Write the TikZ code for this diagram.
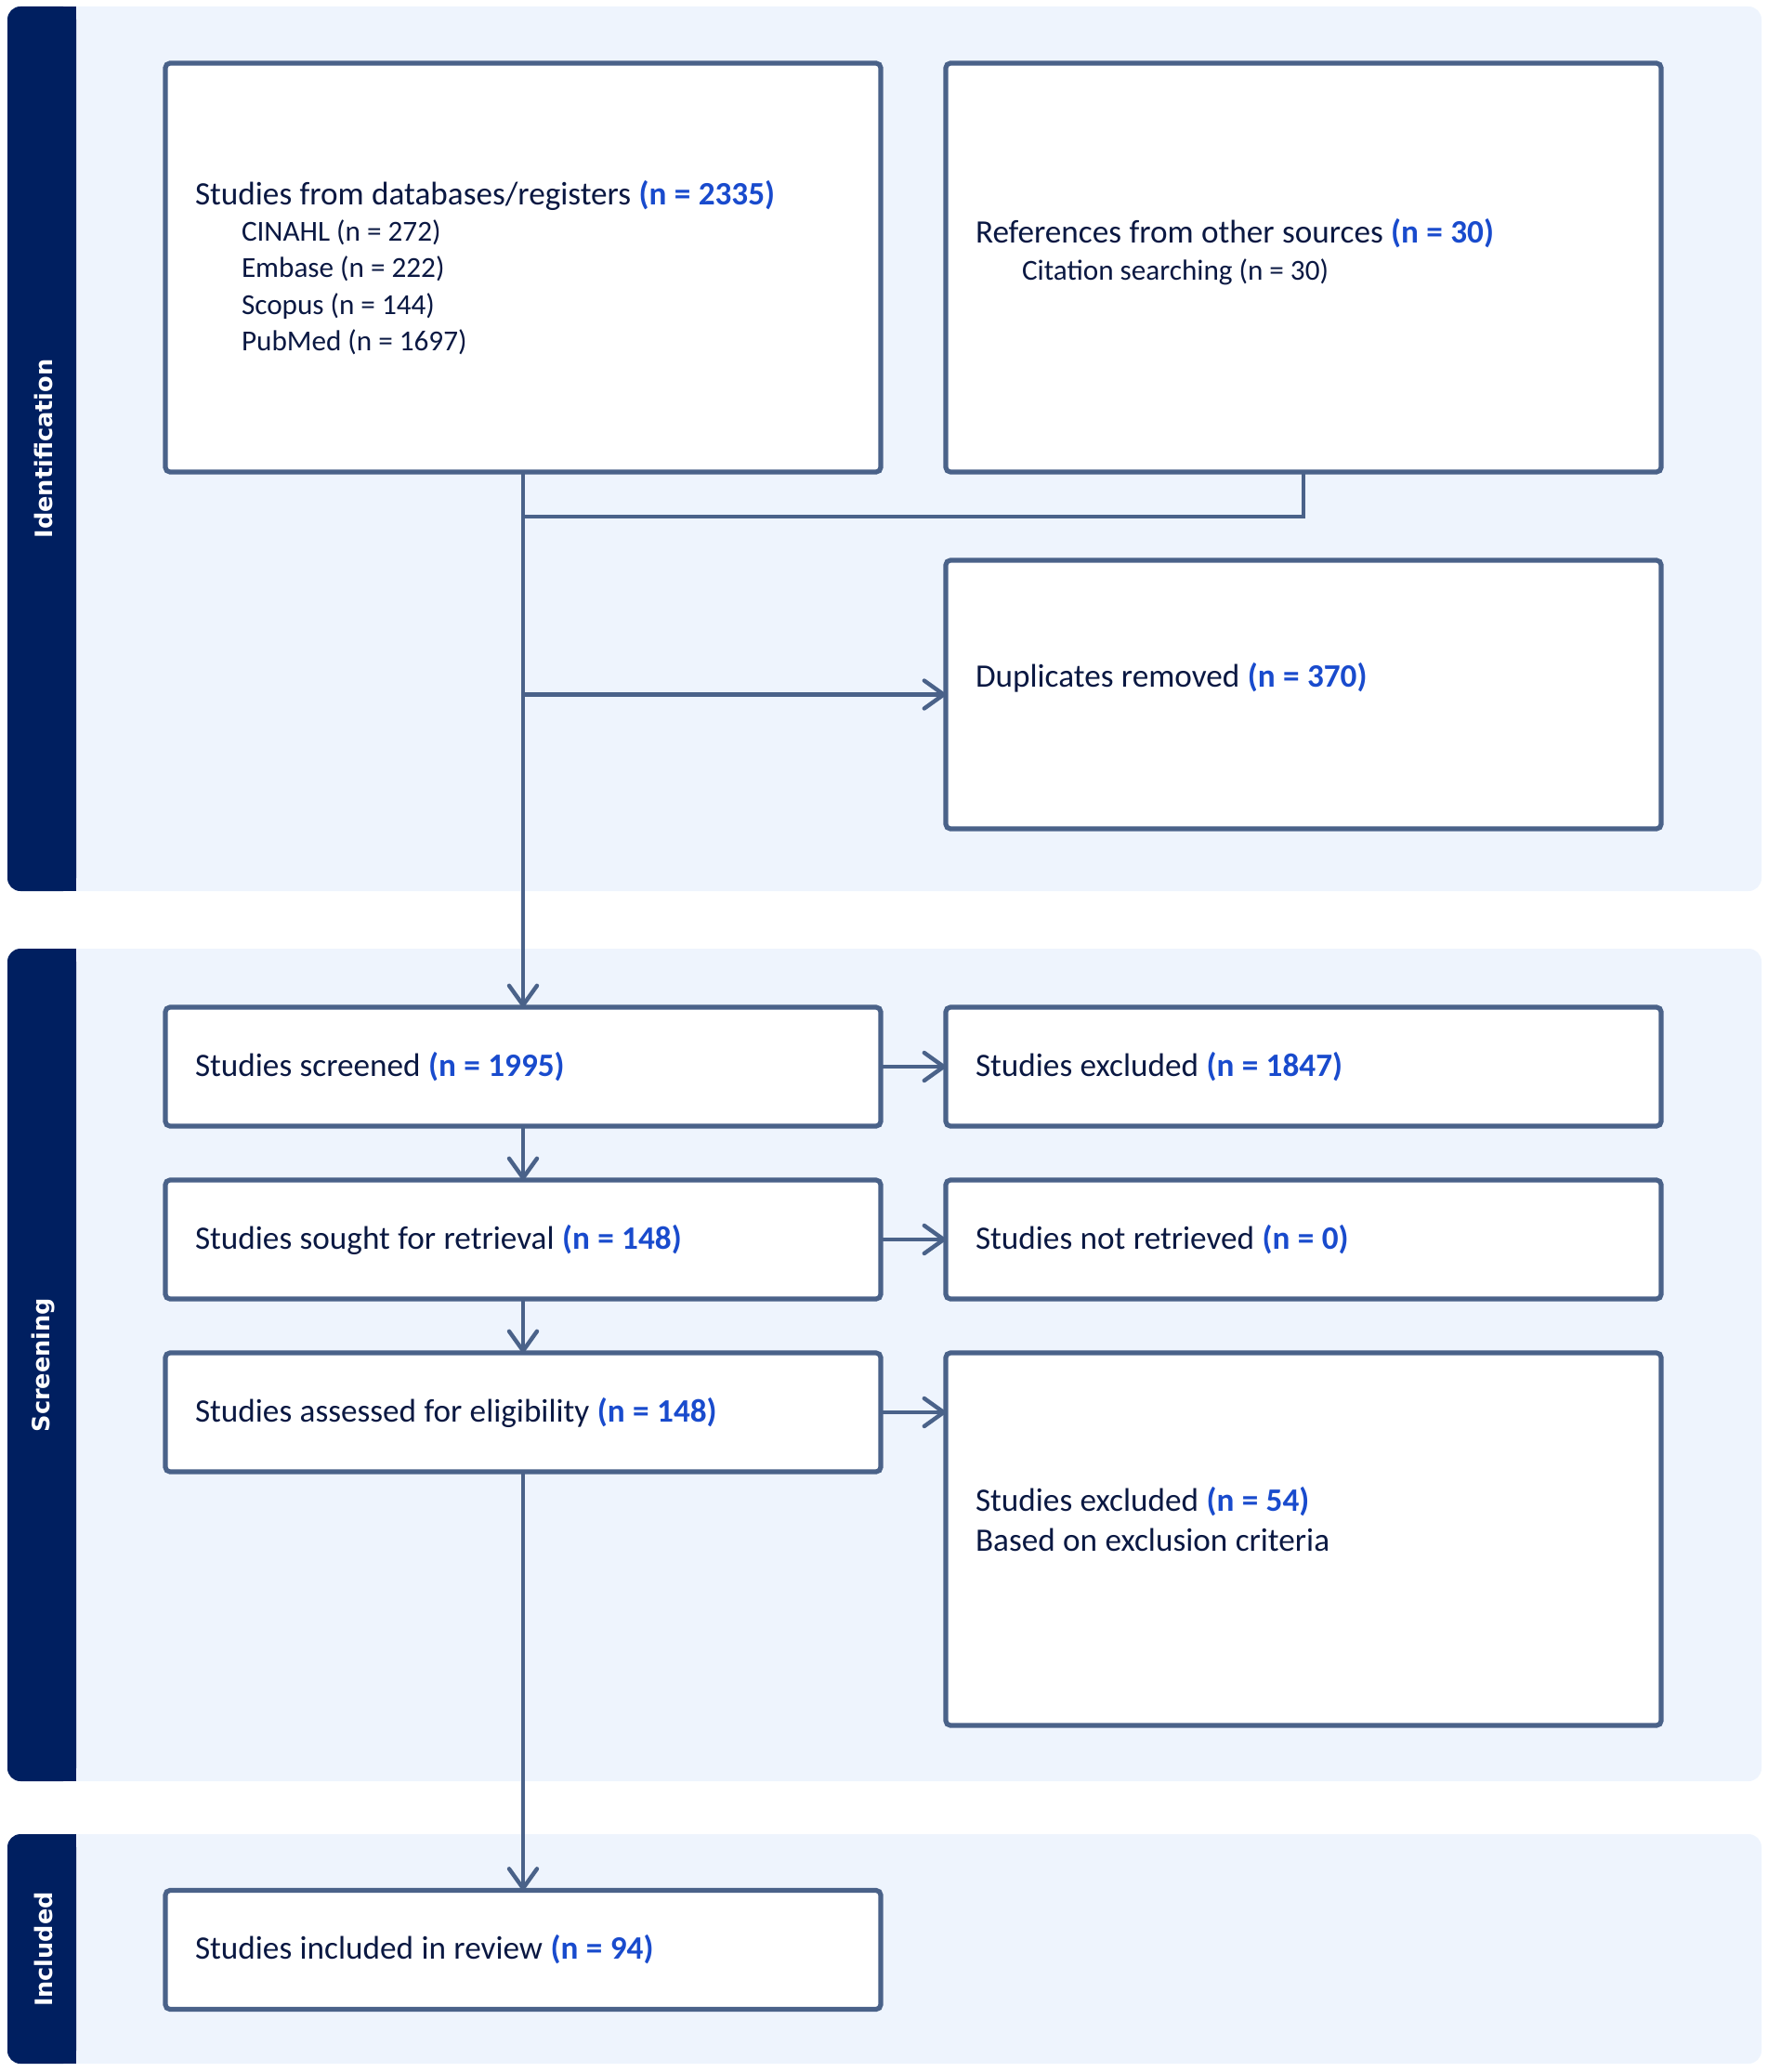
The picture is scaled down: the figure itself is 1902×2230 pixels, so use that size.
\documentclass[tikz,border=0pt]{standalone}
\usepackage{fontspec}
\setmainfont{Carlito}
\newfontfamily\phasefont{DejaVu Sans}
\usepackage{xcolor}
\usetikzlibrary{positioning, calc, arrows.meta}
\definecolor{navy}{RGB}{0,31,96}
\definecolor{panel}{RGB}{238,244,253}
\definecolor{edge}{RGB}{74,98,137}
\definecolor{ink}{RGB}{10,24,66}
\definecolor{nblue}{RGB}{25,75,205}
\newcommand{\nval}[1]{\textbf{\color{nblue}(n = #1)}}
\newcommand{\subsrc}[1]{\hspace*{25pt}{\fontsize{15.6}{19.7}\selectfont\spaceskip=3.5pt\relax #1}}
\tikzstyle{Box} = [
draw=edge, line width=2.6pt, fill=white, rounded corners=2.5pt,
minimum width=385pt, minimum height=64pt, inner xsep=16pt,
text width=353pt, align=left, text=ink, outer sep=0pt,
execute at begin node={\spaceskip=4.2pt\relax},
font=\fontsize{17.6}{21.5}\selectfont]
\tikzstyle{Arrow} = [
draw=edge, line width=2.2pt,
-{Straight Barb[length=10.5pt, width=15pt, round]}]
\tikzstyle{Line} = [draw=edge, line width=2.2pt]
\tikzstyle{Phase} = [
rotate=90, text=white,
font=\phasefont\bfseries\fontsize{12.8}{15}\selectfont]

\begin{document}
\begin{tikzpicture}[x=0.5pt, y=-0.5pt]
    \useasboundingbox (0,0) rectangle (1902,2230);

    \fill[panel, rounded corners=7pt] (8,7) rectangle (1896,959);
    \fill[panel, rounded corners=7pt] (8,1021) rectangle (1896,1917);
    \fill[panel, rounded corners=7pt] (8,1974) rectangle (1896,2221);
    \fill[navy, rounded corners=7pt] (8,7) rectangle (82,959);
    \fill[navy, rounded corners=7pt] (8,1021) rectangle (82,1917);
    \fill[navy, rounded corners=7pt] (8,1974) rectangle (82,2221);
    \fill[navy] (45,7) rectangle (82,959);
    \fill[navy] (45,1021) rectangle (82,1917);
    \fill[navy] (45,1974) rectangle (82,2221);

    \node[Phase] (p1) at (47,483) {Identification};
    \node[Phase] (p2) at (47,1469) {Screening};
    \node[Phase] (p3) at (47,2098) {Included};

    \node[Box, minimum height=220pt, font=\fontsize{17.6}{19.7}\selectfont] (1) at (563,288)
        {Studies from databases/registers \nval{2335}\\
         \subsrc{CINAHL (n = 272)}\\
         \subsrc{Embase (n = 222)}\\
         \subsrc{Scopus (n = 144)}\\
         \subsrc{PubMed (n = 1697)}};
    \node[Box, minimum height=220pt, font=\fontsize{17.6}{19.7}\selectfont, right=35pt of 1] (2)
        {References from other sources \nval{30}\\
         \subsrc{Citation searching (n = 30)}\\ \mbox{}};
    \node[Box, minimum height=144.5pt, below=47.5pt of 2] (3)
        {Duplicates removed \nval{370}\\ \mbox{}};
    \node[Box] (4) at (563,1148) {Studies screened \nval{1995}};
    \node[Box, right=35pt of 4] (5) {Studies excluded \nval{1847}};
    \node[Box, below=29pt of 4] (6) {Studies sought for retrieval \nval{148}};
    \node[Box, right=35pt of 6] (7) {Studies not retrieved \nval{0}};
    \node[Box, below=29pt of 6] (8) {Studies assessed for eligibility \nval{148}};
    \node[Box, minimum height=200.5pt, right=35pt of 8.north east, anchor=north west] (9)
        {Studies excluded \nval{54}\\
         Based on exclusion criteria\\ \mbox{}};
    \node[Box] (10) at (563,2098.5) {Studies included in review \nval{94}};

    \coordinate (j) at ($(2.south)+(0,48)$);
    \draw[Line] (2.south) -- (j) -- (j -| 1.south);
    \draw[Arrow] (1.south) -- (4.north);
    \draw[Arrow] (1.south |- 3.west) -- (3.west);
    \draw[Arrow] (4.east) -- (5.west);
    \draw[Arrow] (4.south) -- (6.north);
    \draw[Arrow] (6.east) -- (7.west);
    \draw[Arrow] (6.south) -- (8.north);
    \draw[Arrow] (8.east) -- (8.east -| 9.west);
    \draw[Arrow] (8.south) -- (10.north);
\end{tikzpicture}
\end{document}
